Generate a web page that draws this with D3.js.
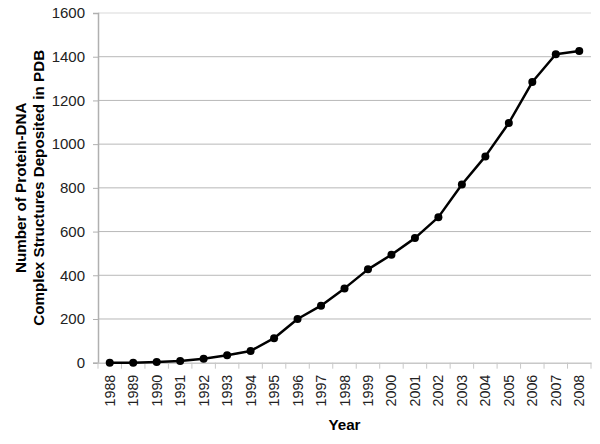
<!DOCTYPE html>
<html><head><meta charset="utf-8">
<script src="https://cdn.jsdelivr.net/npm/d3@7"></script>
<style>body{margin:0;background:#fff}svg{display:block}text{font-family:"Liberation Sans",Arial,sans-serif}</style>
</head><body><svg id="c" width="600" height="444"></svg>
<script>
const years = ["1988","1989","1990","1991","1992","1993","1994","1995","1996","1997","1998","1999","2000","2001","2002","2003","2004","2005","2006","2007","2008"];
const counts = [0,0,3,8,18,34,54,112,200,261,340,427,494,570,666,815,944,1097,1284,1411,1426];
const yTicks = [0,200,400,600,800,1000,1200,1400,1600];

const svg = d3.select("#c");
const L=98, R=591, T=13, B=362.7;
const x = d3.scaleBand().domain(years).range([L,R]);
const y = d3.scaleLinear().domain([0,1600]).range([B,T]);

// gridlines
svg.append("g").selectAll("line").data(yTicks.filter(d=>d>0)).join("line")
  .attr("x1",L).attr("x2",R).attr("y1",d=>y(d)).attr("y2",d=>y(d))
  .attr("stroke",d=>d===1600?"#d9d9d9":"#b8b8b8").attr("stroke-width",1);

// y axis
const ya = svg.append("g").attr("transform",`translate(${L},0)`)
  .call(d3.axisLeft(y).tickValues(yTicks).tickFormat(d3.format("d")).tickSize(5).tickPadding(8));
ya.select(".domain").attr("stroke","#b0b0b0").attr("stroke-width",1.5);
ya.selectAll(".tick line").attr("stroke","#b0b0b0");
ya.selectAll("text").attr("font-size","15px").attr("fill","#222");

// x axis
const xa = svg.append("g").attr("transform",`translate(0,${B})`)
  .call(d3.axisBottom(x).tickSize(0).tickPadding(0));
xa.select(".domain").attr("stroke","#c8c8c8").attr("stroke-width",1.5);
xa.selectAll(".tick text").attr("font-size","14.3px").attr("fill","#222")
  .attr("transform","rotate(-90)").attr("text-anchor","end")
  .attr("x",-12).attr("y",0).attr("dy","0.35em");
// category boundary ticks
svg.append("g").selectAll("line").data(years.concat(["end"])).join("line")
  .attr("x1",(d,i)=>i<years.length?x(d):R).attr("x2",(d,i)=>i<years.length?x(d):R)
  .attr("y1",B).attr("y2",B+6).attr("stroke","#c8c8c8").attr("stroke-width",1);

// line
const line = d3.line().x((d,i)=>x(years[i])+x.bandwidth()/2).y(d=>y(d));
svg.append("path").datum(counts).attr("d",line).attr("fill","none")
  .attr("stroke","#000").attr("stroke-width",2.5).attr("stroke-linejoin","round");
svg.append("g").selectAll("circle").data(counts).join("circle")
  .attr("cx",(d,i)=>x(years[i])+x.bandwidth()/2).attr("cy",d=>y(d)).attr("r",4).attr("fill","#000");

// titles
svg.append("text").attr("x",(L+R)/2).attr("y",430).attr("text-anchor","middle")
  .attr("font-size","15.2px").attr("font-weight","bold").text("Year");
const yt = svg.append("text").attr("transform",`translate(25.5,${(T+B)/2}) rotate(-90)`)
  .attr("text-anchor","middle").attr("font-size","15.2px").attr("font-weight","bold");
yt.append("tspan").attr("x",0).attr("dy",0).text("Number of Protein-DNA");
yt.append("tspan").attr("x",0).attr("dy",18).text("Complex Structures Deposited in PDB");
</script></body></html>
